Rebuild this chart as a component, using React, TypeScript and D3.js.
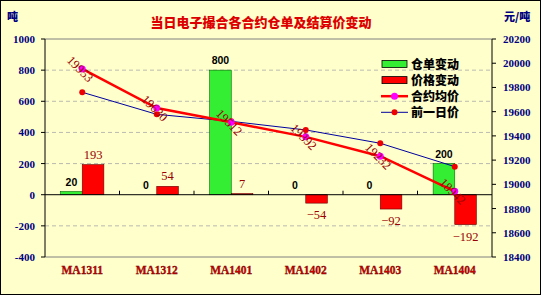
import React from "react";
import * as d3 from "d3";

const categories = ["MA1311", "MA1312", "MA1401", "MA1402", "MA1403", "MA1404"];
const warrantChange = [20, 0, 800, 0, 0, 200];
const priceChange = [193, 54, 7, -54, -92, -192];
const avgPrice = [19953, 19630, 19512, 19392, 19232, 18942];
const prevPrice = [19760, 19578, 19520, 19449, 19339, 19146];
const leftTicks = [-400, -200, 0, 200, 400, 600, 800, 1000];
const rightTicks = [18400, 18600, 18800, 19000, 19200, 19400, 19600, 19800, 20000, 20200];
const title = "当日电子撮合各合约仓单及结算价变动";
const legendLabels = ["仓单变动", "价格变动", "合约均价", "前一日价"];

const W = 542;
const H = 297;
const L = 45, R = 492, T = 39, B = 257;
const BG = "#FFFFCC";
const NAVY = "#000080";
const DARKRED = "#990000";
const serif = "'Liberation Serif', 'Times New Roman', serif";
const cjk = "'Noto Sans CJK SC', sans-serif";

export default function App() {
  const x = d3.scaleBand<string>().domain(categories).range([L, R]);
  const yL = d3.scaleLinear().domain([-400, 1000]).range([B, T]);
  const yR = d3.scaleLinear().domain([18400, 20200]).range([B, T]);
  const bw = x.bandwidth() * 0.29;
  const cx = (c: string) => (x(c) as number) + x.bandwidth() / 2;
  const y0 = yL(0);

  const line = d3.line<number>().x((_, i) => cx(categories[i])).y((v) => yR(v));

  return (
    <svg width={W} height={H} style={{ position: "absolute", left: 0, top: 0 }}>
      <rect x={0} y={0} width={W} height={H} fill="#ffffff" />
      <rect x={0.5} y={0.5} width={540} height={294} fill={BG} stroke="#000" strokeWidth={1} />
      <text x={261} y={27} textAnchor="middle" fontFamily={cjk} fontWeight={900} fontSize={13} fill="#dd0000">{title}</text>
      <text x={7} y={21} fontFamily={cjk} fontWeight={900} fontSize={11} fill={NAVY}>吨</text>
      <text x={504} y={21} fontFamily={cjk} fontWeight={900} fontSize={11} fill={NAVY}>元/吨</text>

      {/* gridlines */}
      {leftTicks.filter((t) => t !== 0 && t !== 1000 && t !== -400).map((t) => (
        <line key={"g" + t} x1={L} x2={R} y1={yL(t)} y2={yL(t)} stroke="#a8a8a8" strokeDasharray="4,3" strokeWidth={0.8} />
      ))}
      {/* plot frame */}
      <line x1={L} x2={R} y1={T} y2={T} stroke="#808080" strokeWidth={1} />
      <line x1={L} x2={R} y1={B} y2={B} stroke="#808080" strokeWidth={1} />
      <line x1={L} x2={L} y1={T} y2={B} stroke="#000" strokeWidth={1} />
      <line x1={R} x2={R} y1={T} y2={B} stroke="#000" strokeWidth={1} />

      {/* left ticks */}
      {leftTicks.map((t) => (
        <g key={"l" + t}>
          <line x1={L - 4} x2={L} y1={yL(t)} y2={yL(t)} stroke="#000" />
          <text x={35} y={yL(t) + 4} textAnchor="end" fontFamily={serif} fontWeight="bold" fontSize={11} fill={NAVY}>{t}</text>
        </g>
      ))}
      {/* right ticks */}
      {rightTicks.map((t) => (
        <g key={"r" + t}>
          <line x1={R} x2={R + 4} y1={yR(t)} y2={yR(t)} stroke="#000" />
          <text x={503} y={yR(t) + 4} fontFamily={serif} fontWeight="bold" fontSize={11} fill={NAVY}>{t}</text>
        </g>
      ))}

      {/* bars */}
      {categories.map((c, i) => {
        const g = warrantChange[i];
        const p = priceChange[i];
        const c0 = cx(c);
        const gy = Math.min(yL(g), y0);
        const gh = Math.abs(yL(g) - y0);
        const py = Math.min(yL(p), y0);
        const ph = Math.abs(yL(p) - y0);
        return (
          <g key={"b" + c}>
            {gh > 0 && <rect x={c0 - bw} y={gy} width={bw} height={gh} fill="#33ee33" stroke="#006600" strokeWidth={0.6} />}
            <rect x={c0} y={py} width={bw} height={Math.max(ph, 0.8)} fill="#ff0000" stroke="#660000" strokeWidth={0.6} />
            <text x={c0 - bw / 2} y={yL(Math.max(g, 0)) - 6} textAnchor="middle" fontFamily="'Liberation Sans', Arial, sans-serif" fontWeight="bold" fontSize={10.5} fill="#000">{g}</text>
            <text x={c0 + bw / 2} y={p >= 0 ? yL(p) - 6 : yL(p) + 16} textAnchor="middle" fontFamily={serif} fontSize={12.5} fill={DARKRED}>{p < 0 ? "−" + Math.abs(p) : p}</text>
          </g>
        );
      })}

      {/* zero axis */}
      <line x1={L} x2={R} y1={y0} y2={y0} stroke="#000" strokeWidth={1} />
      {categories.slice(1).map((c) => (
        <line key={"t" + c} x1={x(c) as number} x2={x(c) as number} y1={y0 - 4} y2={y0} stroke="#000" />
      ))}

      {/* category labels */}
      {categories.map((c) => (
        <text key={"c" + c} x={cx(c)} y={274} textAnchor="middle" fontFamily={serif} fontWeight="bold" fontSize={11.5} fill="#cc0000" stroke="#660000" strokeWidth={0.3}>{c}</text>
      ))}

      {/* previous day price line */}
      <path d={line(prevPrice) as string} fill="none" stroke="#0000a0" strokeWidth={1} />
      {prevPrice.map((v, i) => (
        <circle key={"pp" + i} cx={cx(categories[i])} cy={yR(v)} r={3} fill="#ee0000" />
      ))}
      {/* average price line */}
      <path d={line(avgPrice) as string} fill="none" stroke="#ff0000" strokeWidth={2.5} />
      {avgPrice.map((v, i) => (
        <circle key={"ap" + i} cx={cx(categories[i])} cy={yR(v)} r={3.5} fill="#ff00ff" />
      ))}
      {avgPrice.map((v, i) => (
        <text key={"al" + i} transform={`translate(${cx(categories[i]) - 3},${yR(v) + 1}) rotate(45)`} textAnchor="middle" dominantBaseline="middle" fontFamily={serif} fontSize={12.5} fill={DARKRED}>{v}</text>
      ))}

      {/* legend */}
      {legendLabels.map((lab, i) => {
        const ly = 64 + i * 16.1;
        return (
          <g key={"lg" + i}>
            {i === 0 && <rect x={382} y={ly - 3.5} width={25} height={7} fill="#33ee33" stroke="#000" strokeWidth={0.8} />}
            {i === 1 && <rect x={382} y={ly - 3.5} width={25} height={7} fill="#ff0000" stroke="#000" strokeWidth={0.8} />}
            {i === 2 && (
              <g>
                <line x1={381} x2={408} y1={ly} y2={ly} stroke="#ff0000" strokeWidth={2.5} />
                <circle cx={394.5} cy={ly} r={3.5} fill="#ff00ff" />
              </g>
            )}
            {i === 3 && (
              <g>
                <line x1={381} x2={408} y1={ly} y2={ly} stroke="#0000a0" strokeWidth={1} />
                <circle cx={394.5} cy={ly} r={3} fill="#ee0000" />
              </g>
            )}
            <text x={411} y={ly + 4.5} fontFamily={cjk} fontWeight={900} fontSize={12} fill="#000">{lab}</text>
          </g>
        );
      })}
    </svg>
  );
}
